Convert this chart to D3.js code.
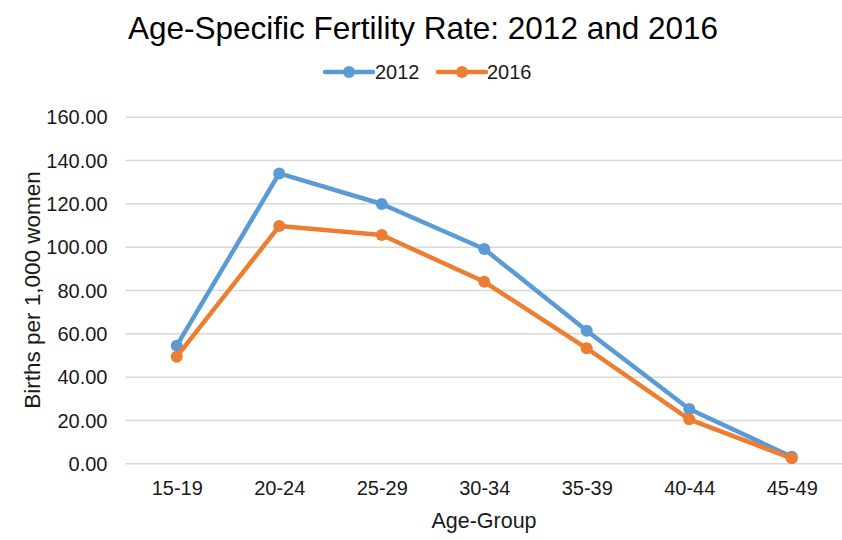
<!DOCTYPE html>
<html>
<head>
<meta charset="utf-8">
<script src="https://cdnjs.cloudflare.com/ajax/libs/d3/7.8.5/d3.min.js"></script>
<style>
  html, body { margin: 0; padding: 0; background: #fff; }
  svg { display: block; }
  text { font-family: "Liberation Sans", Arial, sans-serif; }
</style>
</head>
<body>
<svg id="chart" width="842" height="540"></svg>
<script>
const categories = ["15-19", "20-24", "25-29", "30-34", "35-39", "40-44", "45-49"];
const values2012 = [54.3, 133.8, 119.7, 98.9, 61.2, 25.1, 3.0];
const values2016 = [49.2, 109.5, 105.4, 83.8, 53.1, 20.3, 2.3];
const seriesNames = ["2012", "2016"];
const yTicks = [0, 20, 40, 60, 80, 100, 120, 140, 160];

const colors = { "2012": "#5B9BD5", "2016": "#ED7D31" };
const series = [
  { name: seriesNames[0], values: values2012 },
  { name: seriesNames[1], values: values2016 }
];

const svg = d3.select("#chart");
const plotLeft = 125.5, plotRight = 843, plotTop = 116.7, plotBottom = 463.3;

const x = d3.scalePoint().domain(categories).range([plotLeft, plotRight]).padding(0.5);
const y = d3.scaleLinear().domain([0, 160]).range([plotBottom, plotTop]);

// Title
svg.append("text")
  .attr("x", 423).attr("y", 39)
  .attr("text-anchor", "middle")
  .attr("font-size", 31.5)
  .attr("fill", "#000")
  .text("Age-Specific Fertility Rate: 2012 and 2016");

// Gridlines
const yAxis = d3.axisLeft(y).tickValues(yTicks).tickSize(-(842 - plotLeft)).tickPadding(18)
  .tickFormat(d3.format(".2f"));
const gy = svg.append("g").attr("transform", `translate(${plotLeft},0)`).call(yAxis);
gy.select(".domain").remove();
gy.selectAll(".tick line").attr("stroke", "#d9d9d9").attr("stroke-width", 1.5);
gy.selectAll(".tick text").attr("font-size", 20).attr("fill", "#1a1a1a")
  .attr("font-family", "'Liberation Sans', Arial, sans-serif").attr("dy", "0.36em");

// X axis labels
const xAxis = d3.axisBottom(x).tickSize(0).tickPadding(18);
const gx = svg.append("g").attr("transform", `translate(0,${plotBottom})`).call(xAxis);
gx.select(".domain").remove();
gx.selectAll(".tick text").attr("font-size", 20).attr("fill", "#1a1a1a")
  .attr("font-family", "'Liberation Sans', Arial, sans-serif");

// Axis titles
svg.append("text")
  .attr("x", 484).attr("y", 527.5)
  .attr("text-anchor", "middle")
  .attr("font-size", 21.5)
  .attr("fill", "#1a1a1a")
  .text("Age-Group");

svg.append("text")
  .attr("transform", "translate(40,290) rotate(-90)")
  .attr("text-anchor", "middle")
  .attr("font-size", 22.5)
  .attr("fill", "#1a1a1a")
  .text("Births per 1,000 women");

// Lines
const line = d3.line().x((d, i) => x(categories[i])).y(d => y(d));
series.forEach(s => {
  svg.append("path")
    .datum(s.values)
    .attr("fill", "none")
    .attr("stroke", colors[s.name])
    .attr("stroke-width", 4.5)
    .attr("stroke-linejoin", "round")
    .attr("d", line);
  svg.selectAll(null)
    .data(s.values)
    .enter().append("circle")
    .attr("cx", (d, i) => x(categories[i]))
    .attr("cy", d => y(d))
    .attr("r", 6)
    .attr("fill", colors[s.name]);
});

// Legend
const legendItems = [
  { name: seriesNames[0], x0: 325, x1: 373, tx: 375 },
  { name: seriesNames[1], x0: 438, x1: 486, tx: 487 }
];
const legendY = 72;
legendItems.forEach(it => {
  svg.append("line")
    .attr("x1", it.x0).attr("x2", it.x1)
    .attr("y1", legendY).attr("y2", legendY)
    .attr("stroke", colors[it.name]).attr("stroke-width", 4.5)
    .attr("stroke-linecap", "round");
  svg.append("circle")
    .attr("cx", (it.x0 + it.x1) / 2).attr("cy", legendY).attr("r", 6)
    .attr("fill", colors[it.name]);
  svg.append("text")
    .attr("x", it.tx).attr("y", legendY + 7)
    .attr("font-size", 20).attr("fill", "#1a1a1a")
    .text(it.name);
});
</script>
</body>
</html>
